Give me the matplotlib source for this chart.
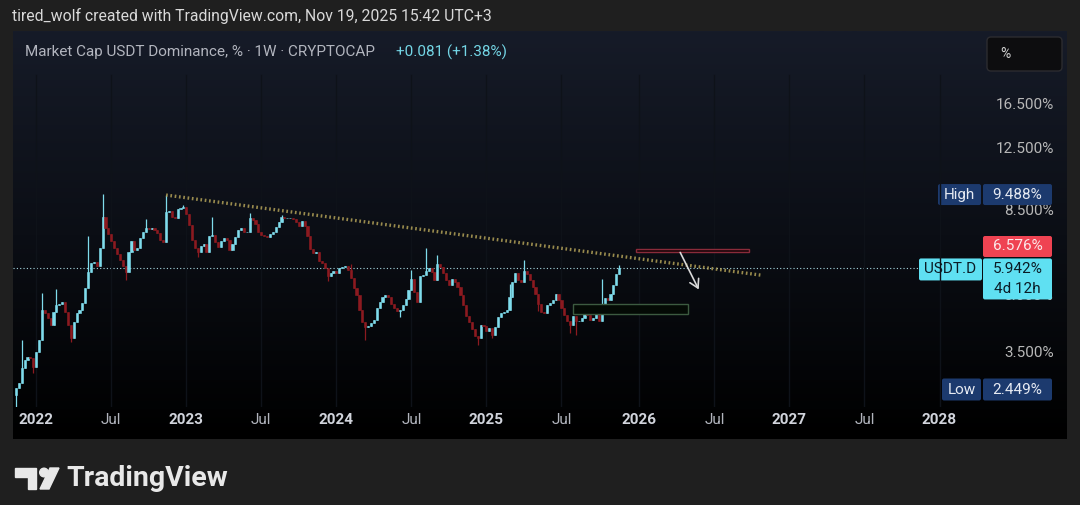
import numpy as np
import matplotlib
matplotlib.use('Agg')
import matplotlib.pyplot as plt
import matplotlib.dates as mdates
from matplotlib.patches import Rectangle, FancyBboxPatch, Polygon, Circle
from matplotlib.colors import LinearSegmentedColormap

plt.rcParams['font.family'] = ['Roboto', 'DejaVu Sans']

# weekly USDT.D candles, first week 2021-11-15, closes in %
first_week = '2021-11-15'
first_open = 2.70
closes = [
    2.82, 2.91, 3.19, 3.35, 3.42, 3.40, 3.21, 3.53, 3.80, 4.58,
    4.50, 4.36, 4.17, 4.52, 4.73, 4.76, 4.82, 4.52, 4.17, 3.85,
    4.25, 4.50, 4.58, 4.79, 5.26, 5.81, 6.15, 6.18, 6.03, 6.75,
    8.20, 7.65, 7.37, 7.06, 6.75, 6.50, 6.26, 6.03, 5.81, 6.59,
    7.06, 6.67, 6.75, 7.19, 7.46, 7.65, 7.60, 7.65, 7.55, 7.41,
    7.10, 7.01, 8.46, 8.51, 8.20, 8.14, 8.61, 8.67, 8.72, 8.35,
    7.79, 7.10, 6.75, 6.59, 6.84, 6.92, 6.59, 7.28, 7.32, 7.01,
    6.80, 7.06, 7.19, 7.10, 6.67, 6.92, 7.23, 7.55, 7.65, 7.46,
    7.46, 8.14, 8.04, 7.84, 7.46, 7.32, 7.28, 7.23, 7.37, 7.46,
    7.69, 7.94, 8.20, 8.14, 8.14, 8.14, 8.09, 7.94, 7.74, 7.99,
    7.74, 7.28, 6.71, 6.54, 6.59, 6.22, 6.15, 5.96, 5.67, 5.77,
    5.84, 5.77, 5.96, 5.99, 6.03, 5.88, 5.60, 5.26, 5.03, 4.58,
    4.25, 4.12, 4.15, 4.22, 4.31, 4.64, 4.82, 4.97, 5.03, 4.97,
    4.76, 4.64, 4.55, 4.58, 4.73, 4.91, 5.19, 5.56, 5.13, 4.82,
    5.67, 5.70, 5.84, 5.96, 5.81, 5.53, 6.11, 5.99, 5.77, 5.53,
    5.36, 5.56, 5.46, 5.29, 5.03, 4.73, 4.41, 4.25, 4.07, 3.90,
    3.85, 4.17, 4.15, 4.02, 4.10, 3.92, 4.12, 4.39, 4.50, 4.52,
    4.58, 4.97, 5.46, 5.77, 5.53, 5.46, 5.84, 5.74, 5.53, 5.29,
    5.06, 4.76, 4.52, 4.50, 4.73, 4.79, 4.88, 5.06, 4.88, 4.64,
    4.44, 4.28, 4.17, 4.41, 4.28, 4.28, 4.36, 4.47, 4.44, 4.31,
    4.36, 4.47, 4.28, 4.73, 4.94, 4.88, 5.06, 5.36, 5.74, 5.942,
]

# notable wicks (candle index -> value)
wick_high_idx = [2, 9, 14, 25, 30, 45, 52, 58, 68, 81, 92, 116, 137, 142, 146, 171,
                 176, 203, 209]
wick_high_val = [3.80, 5.09, 5.22, 7.28, 9.488, 8.10, 9.40, 8.83, 8.20, 8.38, 8.30,
                 6.10, 5.88, 6.75, 6.46, 5.40, 6.26, 5.55, 6.07]
wick_low_idx = [0, 6, 19, 38, 63, 108, 121, 133, 160, 165, 181, 192, 194]
wick_low_val = [2.449, 3.10, 3.75, 5.53, 6.40, 5.50, 3.80, 4.40, 3.68, 3.85, 4.55,
                3.97, 3.92]

# drawings
trend_dates = ['2022-11-14', '2026-10-26']
trend_vals = [9.40, 5.70]
red_box = ('2025-12-29', '2026-09-27', 6.576, 6.72)
green_box = ('2025-07-28', '2026-05-03', 4.47, 4.76)
arrow_from = ('2026-04-11', 6.67)
arrow_to = ('2026-06-01', 5.13)

price_ticks = [16.5, 12.5, 8.5, 5.0, 3.5]
time_ticks = ['2022-01-03', '2022-07-04', '2023-01-02', '2023-07-03', '2024-01-01',
              '2024-07-01', '2024-12-30', '2025-06-30', '2026-01-05', '2026-07-06',
              '2027-01-04', '2027-07-05', '2028-01-03']
time_labels = ['2022', 'Jul', '2023', 'Jul', '2024', 'Jul', '2025', 'Jul',
               '2026', 'Jul', '2027', 'Jul', '2028']

last_price = 5.942
high_price = 9.488
low_price = 2.449

W, H = 1080, 505
fig = plt.figure(figsize=(W / 100, H / 100), dpi=100, facecolor='#1f1f1f')
bg = fig.add_axes([0, 0, 1, 1])
bg.set_xlim(0, W)
bg.set_ylim(H, 0)
bg.axis('off')

# pane with gradient
cm = LinearSegmentedColormap.from_list('pane', ['#161b28', '#0b0e15', '#000000'])
grad = np.linspace(0, 1, 200).reshape(-1, 1)
bg.imshow(grad, cmap=cm, extent=(13, 1067, 439, 31), aspect='auto', zorder=0)

# main chart axes
L, R, T, B = 13, 1067, 31, 407
ax = fig.add_axes([L / W, (H - B) / H, (R - L) / W, (B - T) / H])
ax.set_facecolor('none')
for s in ax.spines.values():
    s.set_visible(False)
ax.set_yscale('log')
ax.set_ylim(2.50, 26.2)
ref = mdates.date2num(np.datetime64('2022-01-03'))
px_per_day = 2.886 / 7
ax.set_xlim(ref - (36.2 - L) / px_per_day, ref + (R - 36.2) / px_per_day)
ax.set_xticks([])
ax.set_yticks([])
ax.minorticks_off()

dates = np.datetime64(first_week) + np.arange(len(closes)) * np.timedelta64(7, 'D')
xd = mdates.date2num(dates)
c = np.array(closes)
o = np.array([first_open] + closes[:-1])
hi = np.maximum(o, c)
lo = np.minimum(o, c)
hi[wick_high_idx] = wick_high_val
lo[wick_low_idx] = wick_low_val

up = c >= o
bull, bear = '#7fdcec', '#8c1a20'
cols = np.where(up, bull, bear)

# faint vertical grid, kept below the legend line
for t in time_ticks:
    ax.axvline(mdates.date2num(np.datetime64(t)), ymin=0, ymax=(B - 75) / (B - T),
               color='#0e1219', lw=1, zorder=1)

ax.vlines(xd, lo, hi, colors=cols, lw=0.9, zorder=3)
ax.bar(xd, np.maximum(np.abs(c - o), 0.01), bottom=np.minimum(o, c),
       width=5.2, color=cols, edgecolor=cols, lw=0.4, zorder=4)

# trend line
ax.plot(mdates.date2num(np.array(trend_dates, dtype='datetime64[D]')), trend_vals,
        color='#b3a258', lw=2.4, ls=(0, (0.5, 0.8)), alpha=0.85, zorder=5)

# boxes
def add_box(box, edge, face):
    x0 = mdates.date2num(np.datetime64(box[0]))
    x1 = mdates.date2num(np.datetime64(box[1]))
    ax.add_patch(Rectangle((x0, box[2]), x1 - x0, box[3] - box[2],
                           facecolor=face, edgecolor=edge, lw=1.0, zorder=5))

add_box(red_box, '#8a2b3a', '#1a0509')
add_box(green_box, '#3c5a40', '#040a05')

ax.annotate('', xy=(mdates.date2num(np.datetime64(arrow_to[0])), arrow_to[1]),
            xytext=(mdates.date2num(np.datetime64(arrow_from[0])), arrow_from[1]),
            arrowprops=dict(arrowstyle='->,head_length=0.6,head_width=0.35',
                            color='#d8d8d8', lw=1.2), zorder=6)

fig.canvas.draw()


def to_px(x, v):
    X, Y = ax.transData.transform((x, v))
    return X, H - Y


# last price dotted line
ylast = to_px(xd[-1], last_price)[1]
bg.plot([L, 919], [ylast, ylast], color='#a8dbe3', lw=0.8, ls=(0, (1, 2)), zorder=2)

# price axis labels
for v in price_ticks:
    y = to_px(xd[0], v)[1]
    bg.text(1054, y, f'{v:.3f}%', ha='right', va='center', color='#b8b8b8',
            fontsize=11, zorder=3)

# time axis labels
for t, lab in zip(time_ticks, time_labels):
    x = to_px(mdates.date2num(np.datetime64(t)), 5)[0]
    bold = lab != 'Jul'
    bg.text(x, 420, lab, ha='center', va='center', fontsize=11,
            color='#d1d4dc' if bold else '#b2b5be',
            fontweight='bold' if bold else 'normal', zorder=3)


def label(x0, x1, yc, h, face, text, tcol, zo=6):
    bg.add_patch(FancyBboxPatch((x0, yc - h / 2), x1 - x0, h,
                                boxstyle='round,pad=0,rounding_size=2',
                                facecolor=face, edgecolor='none', zorder=zo))
    if text:
        bg.text((x0 + x1) / 2, yc, text, ha='center', va='center', color=tcol,
                fontsize=11, zorder=zo + 1)


navy = '#1c3a6e'
yh = to_px(xd[0], high_price)[1]
label(938, 981, yh + 1, 21, navy, 'High', '#e6eaf2')
label(983, 1052, yh + 1, 21, navy, f'{high_price:.3f}%', '#e6eaf2')

label(983, 1052, 246.5, 21, '#ef4352', f'{red_box[2]:.3f}%', '#fbe9ea')

cyan = '#5fe0f2'
label(919, 982, ylast + 1, 22, cyan, 'USDT.D', '#0b1c26')
bg.add_patch(FancyBboxPatch((983, ylast - 10), 69, 41,
                            boxstyle='round,pad=0,rounding_size=2',
                            facecolor=cyan, edgecolor='none', zorder=6))
bg.text(1017.5, ylast + 1, f'{last_price:.3f}%', ha='center', va='center',
        color='#0b1c26', fontsize=11, zorder=7)
bg.text(1017.5, ylast + 21, '4d 12h', ha='center', va='center',
        color='#0b1c26', fontsize=11, zorder=7)

label(942, 981, 389.5, 22, navy, 'Low', '#e6eaf2')
label(983, 1052, 389.5, 22, navy, f'{low_price:.3f}%', '#e6eaf2')

# % box
bg.add_patch(FancyBboxPatch((987, 37), 75, 34, boxstyle='round,pad=0,rounding_size=4',
                            facecolor='#0d0d0f', edgecolor='#2c2c30', lw=1, zorder=3))
bg.text(1000, 54, '%', ha='left', va='center', color='#d0d0d0', fontsize=10, zorder=4)

# header
bg.text(12, 16, 'tired_wolf created with TradingView.com, Nov 19, 2025 15:42 UTC+3',
        ha='left', va='center', color='#d9d9d9', fontsize=11.3)
bg.text(25, 52, 'Market Cap USDT Dominance, % · 1W · CRYPTOCAP', ha='left',
        va='center', color='#b2b5be', fontsize=11)
bg.text(396, 52, '+0.081 (+1.38%)', ha='left', va='center', color='#74d6e6',
        fontsize=11)

# TradingView logo
logo = '#e8e8e8'
bg.add_patch(Polygon([(15, 468), (36, 468), (36, 489), (28, 489), (28, 477), (15, 477)],
                     closed=True, color=logo))
bg.add_patch(Circle((44, 472.5), 4.3, color=logo))
bg.add_patch(Polygon([(50, 468), (59, 468), (49, 489), (40, 489)], closed=True, color=logo))
bg.text(66, 478, 'TradingView', ha='left', va='center', color=logo,
        fontsize=20.5, fontweight='bold')

fig.savefig('out.png', dpi=100, facecolor=fig.get_facecolor())
